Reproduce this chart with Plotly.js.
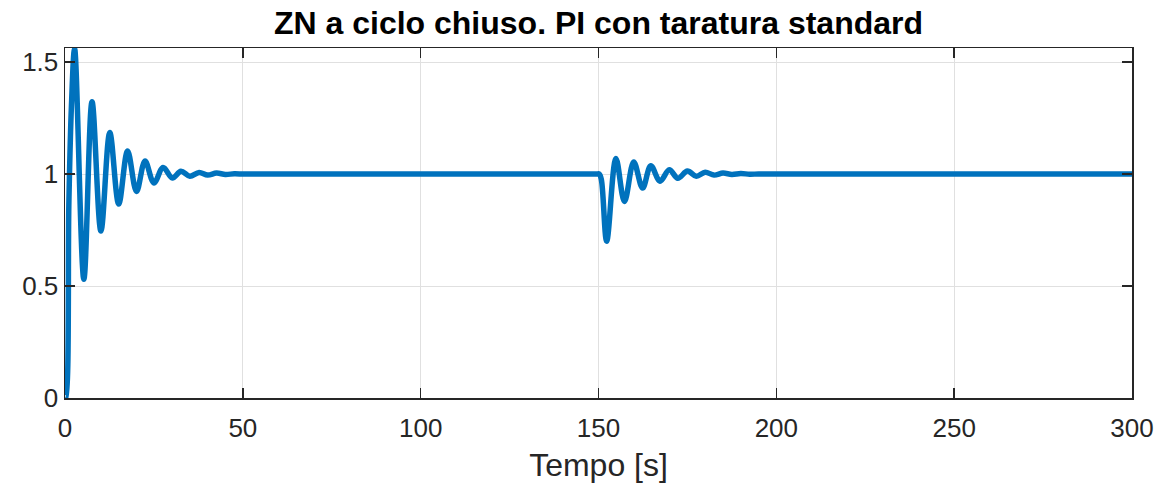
<!DOCTYPE html>
<html>
<head>
<meta charset="utf-8">
<script src="https://cdn.plot.ly/plotly-3.0.1.min.js"></script>
<style>html,body{margin:0;padding:0;background:#fff;}#chart{width:1167px;height:490px;}</style>
</head>
<body>
<div id="chart"></div>
<script>
// Time samples (s)
const tempo = [0, 0.2, 1.1, 1.8, 2.7, 5.3, 7.6, 10.1, 12.6, 15.1, 17.6, 20.1, 22.5, 25.0, 27.6, 30.2, 32.6, 35.1, 37.7, 40.1, 42.6, 45.1, 47.6, 50, 52, 100,
  148, 149.5, 150.2, 150.8, 152.3, 154.9, 157.3, 159.9, 162.4, 164.7, 167.3, 169.9, 172.3, 175.0, 177.5, 180.0, 182.5, 185.0, 187.5, 190.0, 192.5, 195, 200, 250, 300];
// Output values
const uscita = [0, 0, 0.88, 1.30, 1.56, 0.53, 1.323, 0.745, 1.185, 0.866, 1.103, 0.922, 1.058, 0.96, 1.029, 0.982, 1.012, 0.99, 1.007, 0.995, 1.004, 0.998, 1.001, 1, 1, 1,
  1, 1, 1, 0.975, 0.70, 1.069, 0.877, 1.054, 0.937, 1.037, 0.968, 1.019, 0.981, 1.013, 0.99, 1.008, 0.995, 1.004, 0.998, 1.002, 0.999, 1, 1, 1, 1];

const xTicks = [0, 50, 100, 150, 200, 250, 300];
const yTicks = [0, 0.5, 1, 1.5];
const yTickLabels = ['0', '0.5', '1', '1.5'];

const titolo = 'ZN a ciclo chiuso. PI con taratura standard';
const xLabel = 'Tempo [s]';

const font = 'Liberation Sans, Arial, sans-serif';
const axisCommon = {
  showline: true, mirror: 'allticks', linecolor: '#262626', linewidth: 1.5,
  ticks: 'inside', ticklen: 10, tickwidth: 1.5, tickcolor: '#262626',
  showgrid: true, gridcolor: '#e0e0e0', gridwidth: 1,
  zeroline: false,
  tickfont: {family: font, size: 26, color: '#262626'}
};

Plotly.newPlot('chart', [{
  x: tempo, y: uscita, type: 'scatter', mode: 'lines',
  line: {color: '#0072BD', width: 5.5, shape: 'spline', smoothing: 1},
  hoverinfo: 'skip'
}], {
  width: 1167, height: 490,
  margin: {l: 65, r: 35, t: 48, b: 92},
  paper_bgcolor: '#ffffff', plot_bgcolor: '#ffffff',
  showlegend: false,
  title: {text: '<b>' + titolo + '</b>', font: {family: font, size: 32, color: '#000'}, xref: 'paper', x: 0.5, xanchor: 'center', y: 0.953, yanchor: 'middle'},
  xaxis: Object.assign({}, axisCommon, {
    range: [0, 300], tickvals: xTicks, ticktext: xTicks.map(String),
    ticklabelstandoff: 6,
    title: {text: xLabel, font: {family: font, size: 32, color: '#262626'}, standoff: 12}
  }),
  yaxis: Object.assign({}, axisCommon, {
    range: [0, 1.5625], tickvals: yTicks, ticktext: yTickLabels
  })
}, {displayModeBar: false, staticPlot: true});
</script>
</body>
</html>
